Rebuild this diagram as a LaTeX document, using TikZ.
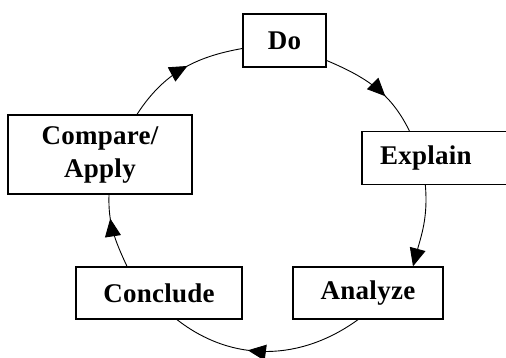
\documentclass[tikz,border=0pt]{standalone}
\usepackage{fontspec}
\setmainfont{Liberation Serif}[LetterSpace=1]
\usetikzlibrary{arrows.meta,decorations.markings}

\tikzset{
  stage/.style={draw,line width=1.3pt,minimum height=53pt,inner sep=0pt,
    font=\fontsize{27}{33}\selectfont\bfseries,align=center},
  link/.style={line width=0.9pt},
  midtip/.style={postaction={decorate},decoration={markings,
    mark=at position #1 with {\arrow{Triangle[length=18pt,width=16pt]}}}},
}

\begin{document}
\begin{tikzpicture}[x=1pt,y=1pt]
\useasboundingbox (0,0) rectangle (506,358);
\node[stage,minimum width=83pt] (do) at (284.5,317.5) {Do};
\node[stage,minimum width=184pt,minimum height=79pt] (cmp) at (100,203.5) {Compare/\\Apply};
\node[stage,text width=114pt,inner xsep=18pt,align=left] (expl) at (437,200) {Explain};
\node[stage,minimum width=166pt,minimum height=52pt] (con) at (159,65) {Conclude};
\node[stage,minimum width=150pt,minimum height=52pt] (ana) at (368,65) {Analyze};
% cycle, clockwise
\draw[link,midtip=0.55] ([xshift=37pt]cmp.north) to[out=57,in=190] ([yshift=-8pt]do.west);
\draw[link,midtip=0.62] ([yshift=-20pt]do.east) to[out=-23,in=116] ([xshift=48pt]expl.north west);
\draw[link,-{Triangle[length=18pt,width=16pt]}] ([xshift=64pt]expl.south west) to[out=-85,in=75] ([xshift=45pt]ana.north);
\draw[link,midtip=0.6] ([xshift=-10pt]ana.south) to[out=-144,in=-38] ([xshift=18pt]con.south);
\draw[link,midtip=0.68] ([xshift=-32pt]con.north) to[out=115,in=-92] ([xshift=9pt]cmp.south);
\end{tikzpicture}
\end{document}
